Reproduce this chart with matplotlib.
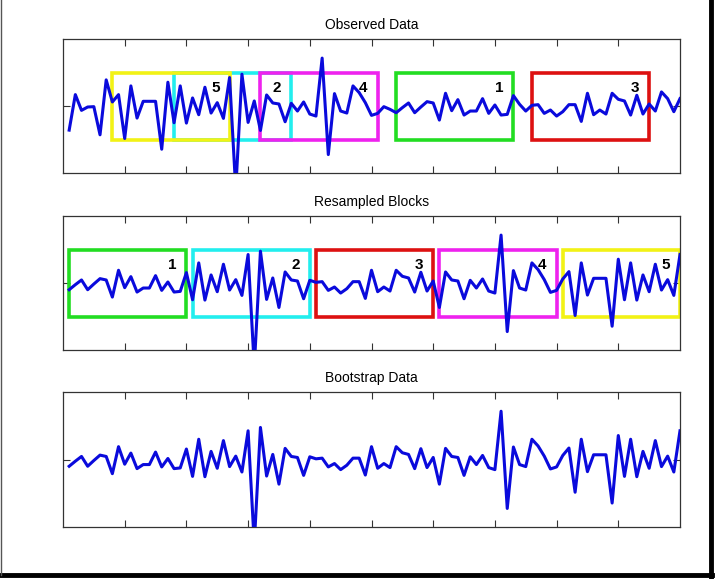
import numpy as np
import matplotlib.pyplot as plt
from matplotlib.patches import Rectangle
from matplotlib.lines import Line2D

plt.rcParams['font.family'] = ['Liberation Sans', 'DejaVu Sans']

# observed series, t = 1..100
observed = [
    -0.72, 0.34, -0.13, -0.03, -0.02, -0.86, 0.78,
    0.12, 0.34, -0.97, 0.60, -0.36, 0.14, 0.14, 0.14, -1.29, 0.71,
    -0.50, 0.60, -0.51, 0.24, -0.26, 0.56, -0.21, 0.10, -0.37, 0.85,
    -2.50, 0.95, -0.49, 0.15, -0.73, 0.33, 0.09, 0.06, -0.47, 0.08,
    -0.15, 0.12, -0.24, -0.30, 1.43, -1.45, 0.37, -0.15, -0.21, 0.60,
    0.40, 0.10, -0.28, -0.22,
    -0.02, -0.10,
    -0.20, -0.05, 0.09, -0.20, -0.03, 0.13, 0.09, -0.42, 0.38, -0.14,
    0.19, -0.27, -0.15, -0.15, 0.22, -0.22, 0.03, -0.27, -0.25, 0.31,
    0.05, -0.15,
    0.02, 0.04, -0.22, -0.12, -0.30, -0.17, 0.04, 0.04, -0.46, 0.38,
    -0.26, -0.12, -0.24, 0.38, 0.20, 0.15, -0.27, 0.32, -0.24, 0.06,
    -0.15, 0.42, 0.22, -0.17, 0.22,
]

block_labels = ['1', '2', '3', '4', '5']
block_start = [54, 18, 76, 32, 8]   # start index in observed (1-based)
block_len = 20
block_colors = ['#22dd22', '#22eeee', '#dd1111', '#ee22ee', '#f2f215']
block_z = [2, 1, 2, 2, 2]
titles = ['Observed Data', 'Resampled Blocks', 'Bootstrap Data']

obs = np.array(observed)
t = np.arange(1, len(obs) + 1)
boot = np.concatenate([obs[s - 1:s - 1 + block_len] for s in block_start])

W, H = 724, 579
fig = plt.figure(figsize=(W / 100, H / 100), dpi=100)

# axes boxes in pixels: (top, bottom)
boxes = [(39, 173), (216, 350), (392, 527)]
left, right = 63, 680
axs = []
for top, bot in boxes:
    ax = fig.add_axes([left / W, 1 - bot / H, (right - left) / W, (bot - top) / H])
    axs.append(ax)

def style(ax, title):
    ax.set_xlim(0, 100)
    ax.set_ylim(-2, 2)
    ax.set_xticks(range(10, 100, 10))
    ax.set_yticks([0])
    ax.tick_params(direction='in', top=True, right=True, length=5, width=0.8,
                   color='#333333', labelbottom=False, labelleft=False)
    for sp in ax.spines.values():
        sp.set_color('#333333')
        sp.set_linewidth(0.9)
    ax.set_title(title, fontsize=10, pad=7)

lw_line = 2.2
lw_box = 2.6
blue = '#0a0adc'

# observed
ax = axs[0]
style(ax, titles[0])
for i, s in enumerate(block_start):
    ax.add_patch(Rectangle((s, -1), block_len - 1, 2, fill=False,
                           edgecolor=block_colors[i], lw=lw_box, zorder=block_z[i]))
    ax.text(s + block_len - 1 - 2.3, 0.55, block_labels[i], fontsize=11,
            fontweight='bold', ha='center', va='center', zorder=5)
ax.plot(t, obs, color=blue, lw=lw_line, zorder=3)

# resampled
ax = axs[1]
style(ax, titles[1])
for i in range(len(block_start)):
    x0 = 1 + i * block_len
    ax.add_patch(Rectangle((x0, -1), block_len - 1, 2, fill=False,
                           edgecolor=block_colors[i], lw=lw_box, zorder=2))
    ax.text(x0 + block_len - 1 - 2.3, 0.55, block_labels[i], fontsize=11,
            fontweight='bold', ha='center', va='center', zorder=5)
ax.plot(t, boot, color=blue, lw=lw_line, zorder=3)

# bootstrap
ax = axs[2]
style(ax, titles[2])
ax.plot(t, boot, color=blue, lw=lw_line, zorder=3)

# window frame
fig.add_artist(Line2D([710.5 / W, 710.5 / W], [2 / H, 1], color='black', lw=3.5))
fig.add_artist(Line2D([0, 712 / W], [4 / H, 4 / H], color='black', lw=3.5))
fig.add_artist(Line2D([1 / W, 1 / W], [4 / H, 1], color='#555555', lw=1))

fig.savefig('out.png', dpi=100)
